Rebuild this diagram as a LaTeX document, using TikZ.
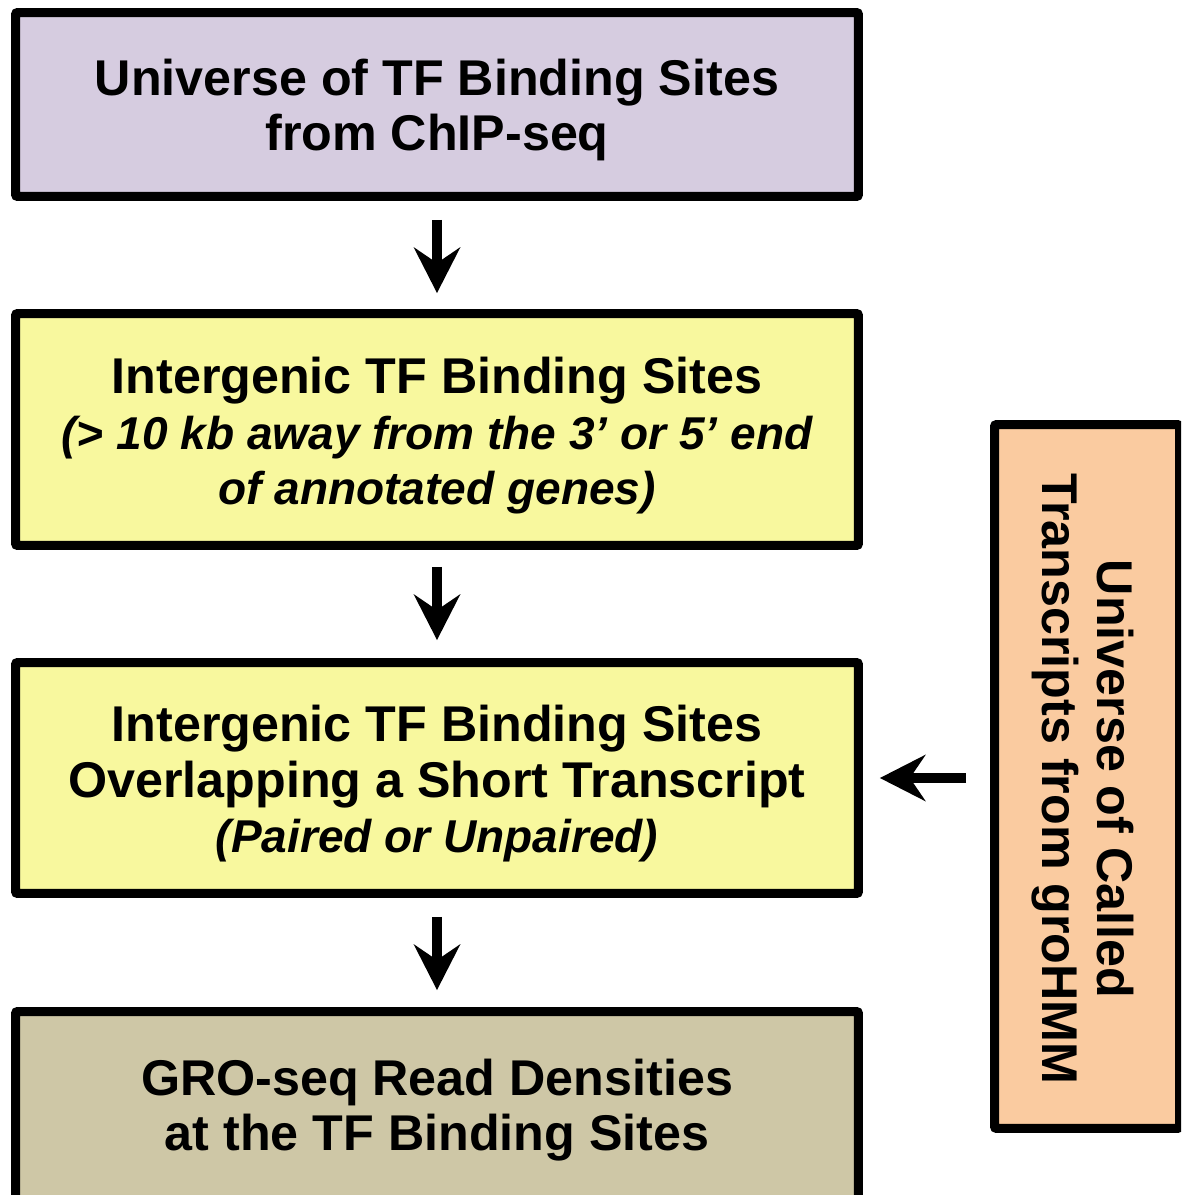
\documentclass[tikz,border=0pt]{standalone}
\usepackage{fontspec}
\setmainfont{Liberation Sans}
\usetikzlibrary{arrows.meta}
\definecolor{lav}{RGB}{214,204,224}
\definecolor{yel}{RGB}{248,248,158}
\definecolor{tanc}{RGB}{206,199,166}
\definecolor{peach}{RGB}{250,203,160}
\newcommand{\smit}{\fontsize{26.2}{31.6}\selectfont\itshape}
\begin{document}
\begin{tikzpicture}[x=0.02cm,y=-0.02cm,
  box/.style={draw=black, line width=0.18cm, rounded corners=0.04cm, inner sep=0pt},
  txt/.style={align=center, inner sep=0pt, font=\fontsize{28.6}{31.6}\selectfont\bfseries},
  arr/.style={line width=0.2cm, -{Stealth[length=0.92cm,width=0.94cm,inset=0.32cm,line width=0pt]}},
]
\useasboundingbox (0,0) rectangle (1181,1195);
\clip (0,0) rectangle (1181,1195);
\node[box, fill=lav, minimum width=16.86cm, minimum height=3.68cm] (b1) at (437,104.5) {};
\node[txt] (t1) at (437,110) {Universe of TF Binding Sites\\from ChIP-seq};
\node[box, fill=yel, minimum width=16.86cm, minimum height=4.64cm] (b2) at (437,429.5) {};
\node[txt] (t2) at (437,436) {Intergenic TF Binding Sites\\\smit (> 10 kb away from the 3’ or 5’ end\\\smit of annotated genes)};
\node[box, fill=yel, minimum width=16.86cm, minimum height=4.62cm] (b3) at (437,778) {};
\node[txt] (t3) at (437,784) {Intergenic TF Binding Sites\\Overlapping a Short Transcript\\\smit (Paired or Unpaired)};
\node[box, fill=tanc, minimum width=16.86cm, minimum height=3.96cm] (b4) at (437,1110.5) {};
\node[txt] (t4) at (437,1110) {GRO-seq Read Densities\\at the TF Binding Sites};
\node[box, fill=peach, minimum width=3.7cm, minimum height=14.08cm] (rb) at (1087,776.5) {};
\node[txt, rotate=-90] (rt) at (1083,779) {Universe of Called\\Transcripts from groHMM};
\draw[arr, shorten <=0.38cm, shorten >=0.32cm] (b1.south) -- (b2.north);
\draw[arr, shorten <=0.34cm, shorten >=0.36cm] (b2.south) -- (b3.north);
\draw[arr, shorten <=0.38cm, shorten >=0.34cm] (b3.south) -- (b4.north);
\draw[arr, shorten <=0.48cm, shorten >=0.34cm] (rb.west |- b3.east) -- (b3.east);
\end{tikzpicture}
\end{document}
